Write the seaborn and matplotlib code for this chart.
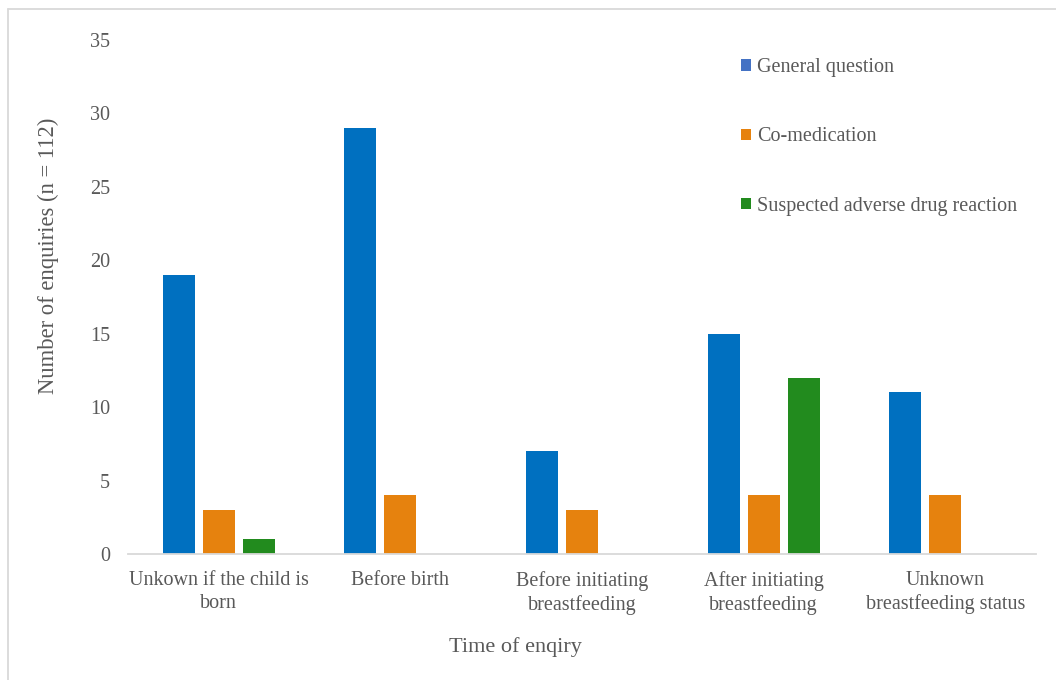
import matplotlib
matplotlib.use("Agg")
import matplotlib.pyplot as plt
from matplotlib.patches import Patch
from matplotlib.lines import Line2D
import seaborn as sns
import pandas as pd

categories = ["Unkown if the child is\nborn", "Before birth", "Before initiating\nbreastfeeding",
              "After initiating\nbreastfeeding", "Unknown\nbreastfeeding status"]
series_names = ["General question", "Co-medication", "Suspected adverse drug reaction"]
general_question = [19, 29, 7, 15, 11]
co_medication = [3, 4, 3, 4, 4]
suspected_adr = [1, 0, 0, 12, 0]
y_ticks = [0, 5, 10, 15, 20, 25, 30, 35]

bar_colors = ["#0070C0", "#E6820E", "#228B1E"]
legend_colors = ["#4472C4", "#E6820E", "#228B1E"]
text_color = "#595959"

rows = []
for name, vals in zip(series_names, [general_question, co_medication, suspected_adr]):
    for c, v in zip(categories, vals):
        rows.append({"category": c, "series": name, "value": v})
df = pd.DataFrame(rows)

sns.set_theme(style="white")
plt.rcParams["font.family"] = ["Liberation Serif", "DejaVu Serif"]

fig = plt.figure(figsize=(10.56, 6.8), dpi=100)
ax = fig.add_axes([128/1056, 1-554/680, (1036-128)/1056, (554-40)/680])

sns.barplot(data=df, x="category", y="value", hue="series", order=categories,
            hue_order=series_names, palette=bar_colors, width=0.66, gap=0.2,
            saturation=1, ax=ax, legend=False, linewidth=0, errorbar=None)

ax.set_ylim(0, 35)
ax.set_yticks(y_ticks)
ax.set_xlabel("")
ax.set_ylabel("")
for s in ["top", "right", "left"]:
    ax.spines[s].set_visible(False)
ax.spines["bottom"].set_color("#D9D9D9")
ax.spines["bottom"].set_linewidth(1.3)
ax.tick_params(axis="y", length=0, pad=13, labelsize=14.5, labelcolor=text_color)
ax.tick_params(axis="x", length=0, pad=12, labelsize=14.5, labelcolor=text_color)
for t in ax.get_xticklabels():
    t.set_linespacing(1.3)

fig.text(48/1056, 1-256/680, "Number of enquiries (n = 112)", rotation=90,
         ha="center", va="center", fontsize=16.3, color=text_color)
fig.text(515/1056, 1-647/680, "Time of enqiry", ha="center", va="center",
         fontsize=16, color=text_color)

handles = [Patch(facecolor=c, edgecolor="none") for c in legend_colors]
leg = fig.legend(handles, series_names, loc="upper left",
                 bbox_to_anchor=(733/1056, 1-50/680), frameon=False,
                 fontsize=14.5, handlelength=0.5, handleheight=0.5,
                 handletextpad=0.3, labelspacing=2.5, borderaxespad=0)
for t in leg.get_texts():
    t.set_color(text_color)

fig.add_artist(Line2D([8/1056, 8/1056], [0, 1-9/680], transform=fig.transFigure,
                      color="#D9D9D9", linewidth=1.3))
fig.add_artist(Line2D([8/1056, 1], [1-9/680, 1-9/680], transform=fig.transFigure,
                      color="#D9D9D9", linewidth=1.3))

fig.savefig("out.png", dpi=100)
